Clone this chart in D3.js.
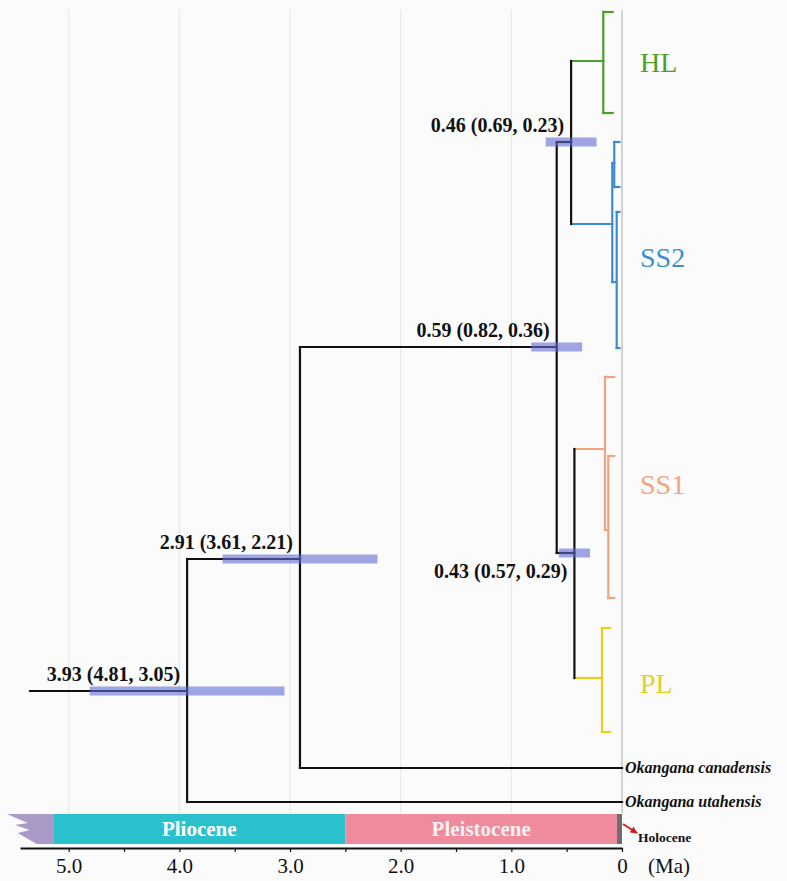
<!DOCTYPE html>
<html><head><meta charset="utf-8">
<script src="https://cdn.jsdelivr.net/npm/d3@7"></script>
<style>
body{margin:0;background:#fcfbfb;}
svg{display:block;}
text{font-family:"Liberation Serif","Times New Roman",serif;}
</style>
</head><body>
<svg id="chart" width="787" height="881"></svg>
<script>
// ---------------- DATA ----------------
// Tree nodes (flat table): id, parent, age (Ma), vertical row, clade group
const nodeIds     = ["root","n291","n059","n046","n043","HL","HL_a","HL_b","SS2","SS2_A","SS2_A1","SS2_A2","SS2_B","SS2_B1","SS2_B2","SS1","SS1_a","SS1_B","SS1_B1","SS1_B2","PL","PL_a","PL_b","canadensis","utahensis"];
const nodeParents = [null,"root","n291","n059","n059","n046","HL","HL","n046","SS2","SS2_A","SS2_A","SS2","SS2_B","SS2_B","n043","SS1","SS1","SS1_B","SS1_B","n043","PL","PL","n291","root"];
const nodeAges    = [3.93,2.91,0.59,0.46,0.43,0.169,0.084,0.084,0.088,0.070,0.023,0.023,0.048,0.023,0.023,0.154,0.070,0.124,0.070,0.070,0.181,0.108,0.108,0,0];
const nodeRows    = [67.9,54.7,33.5,13.0,54.1,4.9,0,10.1,21.2,15.1,13.0,17.5,27.0,20.0,33.6,43.7,36.5,51.8,44.4,58.6,66.6,61.6,72.0,75.6,79.0];
const nodeClade   = ["","","","","","HL","HL","HL","SS2","SS2","SS2","SS2","SS2","SS2","SS2","SS1","SS1","SS1","SS1","SS1","PL","PL","PL","",""];
const rootStemAge = 5.35;

// Divergence times with 95% HPD
const hpdNodes  = ["root","n291","n059","n046","n043"];
const hpdMedian = [3.93,2.91,0.59,0.46,0.43];
const hpdUpper  = [4.81,3.61,0.82,0.69,0.57];
const hpdLower  = [3.05,2.21,0.36,0.23,0.29];
const hpdBelow  = [false,false,false,false,true];

// Clade labels
const cladeNames = ["HL","SS2","SS1","PL"];
const cladeLabelRows = [5.0,24.5,47.2,67.1];
const cladeColors = {"":"#111111","HL":"#4b9f2a","SS2":"#3b8dcf","SS1":"#f2a37e","PL":"#e2d21e"};

// Tip labels
const tipIds = ["canadensis","utahensis"];
const tipNames = ["Okangana canadensis","Okangana utahensis"];

// Geological time scale
const epochNames = ["Miocene","Pliocene","Pleistocene","Holocene"];
const epochStart = [5.56,5.14,2.50,0.045];
const epochEnd   = [5.14,2.50,0.045,0];
const epochColors= ["#a99ac8","#2bc1cc","#ee8b9d","#6e6e6e"];

// Axis
const axisTicks = [5,4.5,4,3.5,3,2.5,2,1.5,1,0.5,0];
const axisLabels = {5:"5.0",4:"4.0",3:"3.0",2:"2.0",1:"1.0",0:"0"};
const gridTicks = [5,4,3,2,1];

// ---------------- CHART ----------------
const svg = d3.select("#chart");
const x = d3.scaleLinear().domain([5.44,0]).range([20,622]);
const y = d3.scaleLinear().domain([0,79]).range([12,802]);

svg.append("rect").attr("width",787).attr("height",881).attr("fill","#fcfbfb");

// grid lines
svg.append("g").selectAll("line").data(gridTicks).join("line")
  .attr("x1",d=>x(d)).attr("x2",d=>x(d)).attr("y1",10).attr("y2",813)
  .attr("stroke","#e6e4e4").attr("stroke-width",1);
svg.append("line").attr("x1",x(0)).attr("x2",x(0)).attr("y1",10).attr("y2",813)
  .attr("stroke","#c4c4c4").attr("stroke-width",1.5);

// tree
const table = nodeIds.map((id,i)=>({id,parent:nodeParents[i],age:nodeAges[i],row:nodeRows[i],clade:nodeClade[i]}));
const root = d3.stratify().id(d=>d.id).parentId(d=>d.parent)(table);
const byId = new Map(root.descendants().map(n=>[n.id,n]));

const gTree = svg.append("g").attr("fill","none").attr("stroke-linecap","square");
// horizontal branches
gTree.selectAll("line.h").data(root.descendants().filter(n=>n.parent)).join("line")
  .attr("class","h")
  .attr("x1",n=>x(n.parent.data.age)).attr("x2",n=>x(n.data.age))
  .attr("y1",n=>y(n.data.row)).attr("y2",n=>y(n.data.row))
  .attr("stroke",n=>cladeColors[n.data.clade]).attr("stroke-width",2.2);
// vertical connectors
gTree.selectAll("line.v").data(root.descendants().filter(n=>n.children)).join("line")
  .attr("class","v")
  .attr("x1",n=>x(n.data.age)).attr("x2",n=>x(n.data.age))
  .attr("y1",n=>y(d3.min(n.children,c=>c.data.row))).attr("y2",n=>y(d3.max(n.children,c=>c.data.row)))
  .attr("stroke",n=>cladeColors[n.data.clade]).attr("stroke-width",2.2);
// root stem
gTree.append("line")
  .attr("x1",x(rootStemAge)).attr("x2",x(root.data.age))
  .attr("y1",y(root.data.row)).attr("y2",y(root.data.row))
  .attr("stroke","#111111").attr("stroke-width",2);

// HPD bars
const hpd = hpdNodes.map((id,i)=>({id,med:hpdMedian[i],up:hpdUpper[i],lo:hpdLower[i],below:hpdBelow[i],row:byId.get(id).data.row,nodeAge:byId.get(id).data.age}));
svg.append("g").selectAll("rect").data(hpd).join("rect")
  .attr("x",d=>x(d.up)).attr("width",d=>x(d.lo)-x(d.up))
  .attr("y",d=>y(d.row)-4.5).attr("height",9)
  .attr("fill","rgb(97,106,210)").attr("fill-opacity",0.6);

// HPD labels
svg.append("g").selectAll("text").data(hpd).join("text")
  .attr("x",d=>x(d.nodeAge)-7)
  .attr("y",d=>y(d.row)+(d.below?25:-10))
  .attr("text-anchor","end").attr("font-size",20).attr("font-weight","bold").attr("fill","#111")
  .text(d=>`${d.med.toFixed(2)} (${d.up.toFixed(2)}, ${d.lo.toFixed(2)})`);

// clade labels
svg.append("g").selectAll("text").data(cladeNames).join("text")
  .attr("x",640).attr("y",(d,i)=>y(cladeLabelRows[i])).attr("dy","0.35em")
  .attr("font-size",28).attr("fill",d=>cladeColors[d]).text(d=>d);

// tip labels
svg.append("g").selectAll("text").data(tipIds).join("text")
  .attr("x",x(0)+3).attr("y",d=>y(byId.get(d).data.row)).attr("dy","0.33em")
  .attr("font-size",16).attr("font-weight","bold").attr("font-style","italic").attr("fill","#111")
  .text((d,i)=>tipNames[i]);

// epochs
const epochs = epochNames.map((n,i)=>({name:n,s:epochStart[i],e:epochEnd[i],c:epochColors[i]}));
const eTop = 814, eBot = 844;
const gE = svg.append("g");
epochs.forEach((ep,i)=>{
  if(i===0){
    const x0 = x(ep.s), x1 = x(ep.e);
    const pts = [[x1,eTop],[x0,eTop],[x0+21,eTop+9],[x0+8,eTop+11],[x0+23,eTop+16],[x0+11,eTop+19],[x0+30,eBot],[x1,eBot]];
    gE.append("path").attr("d",d3.line()(pts)+"Z").attr("fill",ep.c);
  } else {
    gE.append("rect").attr("x",x(ep.s)).attr("width",x(ep.e)-x(ep.s))
      .attr("y",eTop).attr("height",eBot-eTop).attr("fill",ep.c);
  }
});
gE.selectAll("text").data(epochs.filter(e=>e.name==="Pliocene"||e.name==="Pleistocene")).join("text")
  .attr("x",d=>(x(d.s)+x(d.e))/2).attr("y",(eTop+eBot)/2).attr("dy","0.35em")
  .attr("text-anchor","middle").attr("font-size",21).attr("font-weight","bold")
  .attr("fill",d=>d.name==="Pliocene"?"#ffffff":"#fdf0f3").text(d=>d.name);

// Holocene pointer
svg.append("defs").append("marker").attr("id","arr").attr("viewBox","0 0 10 10")
  .attr("refX",9).attr("refY",5).attr("markerWidth",4).attr("markerHeight",4).attr("orient","auto")
  .attr("markerUnits","strokeWidth")
  .append("path").attr("d","M0,0L10,5L0,10Z").attr("fill","#cc2020");
svg.append("line").attr("x1",x(0)+1).attr("y1",824).attr("x2",x(0)+15).attr("y2",833)
  .attr("stroke","#cc2020").attr("stroke-width",1.8).attr("marker-end","url(#arr)");
svg.append("text").attr("x",x(0)+16).attr("y",842).attr("font-size",13.5).attr("font-weight","bold")
  .attr("fill","#111").text("Holocene");

// axis
const axis = d3.axisBottom(x).tickValues(axisTicks).tickSize(4).tickSizeOuter(0).tickPadding(6)
  .tickFormat(d=>axisLabels[d]!==undefined?axisLabels[d]:"");
const gA = svg.append("g").attr("transform","translate(0,848)").call(axis);
gA.select(".domain").attr("stroke","#111").attr("stroke-width",2.2);
gA.selectAll(".tick line").attr("stroke","#111").attr("stroke-width",1.2);
gA.selectAll(".tick text").attr("font-family","'Liberation Serif','Times New Roman',serif").attr("font-size",21).attr("fill","#111");
svg.append("text").attr("x",648).attr("y",848+10+15).attr("font-size",21).attr("fill","#111").text("(Ma)");
</script>
</body></html>
